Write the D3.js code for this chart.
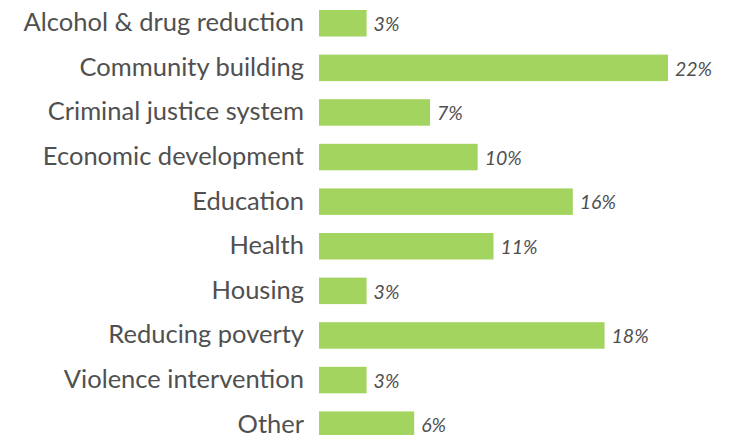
<!DOCTYPE html>
<html>
<head>
<meta charset="utf-8">
<script src="https://cdn.jsdelivr.net/npm/d3@7"></script>
<style>
    body { margin: 0; background: #fff; }
    #chart { width: 738px; height: 435px; }
</style>
</head>
<body>
<div id="chart"></div>
<script>
// categories and their share (percent)
let categories = [
    'Alcohol & drug reduction',
    'Community building',
    'Criminal justice system',
    'Economic development',
    'Education',
    'Health',
    'Housing',
    'Reducing poverty',
    'Violence intervention',
    'Other'
];
let values = [3, 22, 7, 10, 16, 11, 3, 18, 3, 6];

function drawBarChart() {

    let margin = {top: 10, right: 70, bottom: 0, left: 319};

    let data = categories.map(function (c, i) {
        return {key: c, value: values[i]};
    });

    let svg = d3.select('#chart').append('svg')
        .attr('width', 738)
        .attr('height', 435)
        .append('g')
        .attr('transform', 'translate(' + margin.left + ',' + margin.top + ')');

    let x = d3.scaleLinear()
        .domain([0, 22])
        .range([0, 349]);

    // step ~44.6px, bar ~26.5px
    let step = 44.6, barH = 26.5;
    let y = d3.scaleBand()
        .domain(categories)
        .range([0, step * (categories.length - 1) + barH])
        .paddingInner(1 - barH / step)
        .paddingOuter(0);

    // category labels
    svg.append('g')
        .selectAll('text')
        .data(data)
        .enter().append('text')
        .attr('x', -15)
        .attr('y', function (d) { return y(d.key) + y.bandwidth() / 2 - 1; })
        .attr('dy', '0.35em')
        .attr('text-anchor', 'end')
        .attr('fill', '#505050')
        .style('font-family', 'Lato, sans-serif')
        .style('font-size', '25.5px')
        .text(function (d) { return d.key; });

    // bars
    svg.selectAll('.bar')
        .data(data)
        .enter().append('rect')
        .attr('class', 'bar')
        .attr('x', 0)
        .attr('y', function (d) { return y(d.key); })
        .attr('width', function (d) { return x(d.value); })
        .attr('height', y.bandwidth())
        .attr('fill', '#a3d45f');

    // value labels
    svg.selectAll('.val')
        .data(data)
        .enter().append('text')
        .attr('class', 'val')
        .attr('x', function (d) { return x(d.value) + 7; })
        .attr('y', function (d) { return y(d.key) + y.bandwidth() / 2 + 1; })
        .attr('dy', '0.35em')
        .attr('fill', '#505050')
        .style('font-family', 'Lato, sans-serif')
        .style('font-style', 'italic')
        .style('font-size', '19.5px')
        .text(function (d) { return d.value + '%'; });
}

drawBarChart();
</script>
</body>
</html>
